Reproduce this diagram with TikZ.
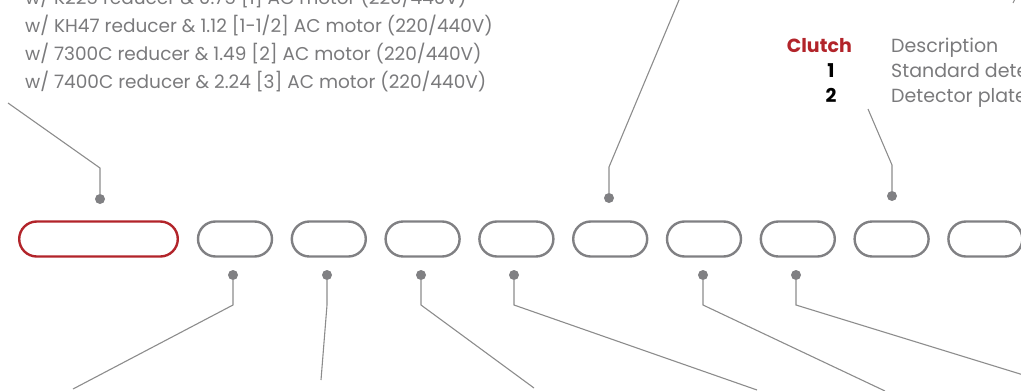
\documentclass[tikz,border=0pt]{standalone}
\usepackage{fontspec}
\setmainfont{Poppins}
\usetikzlibrary{shapes.misc, positioning, math}
\definecolor{myred}{RGB}{178,36,42}
\definecolor{mygray}{RGB}{128,128,131}
\definecolor{linegray}{RGB}{140,140,140}
\definecolor{textgray}{RGB}{122,122,124}

\tikzset{
  slot/.style={rounded rectangle, draw=mygray, line width=2.4, minimum width=74, minimum height=35, inner sep=0},
  pin/.style={circle, fill=mygray, inner sep=0, minimum size=10},
  lead/.style={draw=linegray, line width=1.1},
  listtxt/.style={anchor=base west, text=textgray, inner sep=0, font=\fontsize{18.5}{28}\selectfont},
  tabtxt/.style={anchor=base west, text=textgray, inner sep=0, font=\fontsize{19}{25}\selectfont},
}

\begin{document}
\begin{tikzpicture}[x=1pt,y=-1pt]
\useasboundingbox (0,0) rectangle (1021,391);
\tikzmath{
\P=93.8;
\Y=239;
}

%slots
\node[slot, draw=myred, minimum width=158.6] (s1) at (98.5,\Y) {};
\foreach \i in {2,...,10}{
  \node[slot] (s\i) at ({235+(\i-2)*\P},\Y) {};
}

%pins above
\node[pin] (p1) at (100,199) {};
\node[pin] (p6) at (609,198) {};
\node[pin] (p9) at (892,196) {};
%pins below
\foreach \i/\x in {2/233,3/327,4/421,5/514,7/703,8/796}{
  \node[pin] (p\i) at (\x,275) {};
}

%leaders
\coordinate (k1) at (100,168);  \coordinate (e1) at (8,103);
\coordinate (k6) at (609,167);  \coordinate (e6) at (679,0);
\coordinate (k9) at (892,165);  \coordinate (e9) at (868,109);
\foreach \i/\x/\ex/\ey in {2/233/73/389, 3/327/321/380, 4/421/534/388, 5/514/757/390, 7/703/885/391, 8/796/1030/377}{
  \coordinate (k\i) at (\x,305);
  \coordinate (e\i) at (\ex,\ey);
}
\foreach \i in {1,2,3,4,5,6,7,8,9}{
  \draw[lead] (p\i) -- (k\i) -- (e\i);
}
\coordinate (t1) at (1015,-1);
\coordinate (t2) at (1013,3);
\draw[lead] (t1) -- (t2);

%motor list
\node[listtxt] (m1) at (25,4) {w/ K225 reducer \& 0.75 [1] AC motor (220/440V)};
\node[listtxt] (m2) at (25,32) {w/ KH47 reducer \& 1.12 [1-1/2] AC motor (220/440V)};
\node[listtxt] (m3) at (25,60) {w/ 7300C reducer \& 1.49 [2] AC motor (220/440V)};
\node[listtxt] (m4) at (25,88) {w/ 7400C reducer \& 2.24 [3] AC motor (220/440V)};

%clutch table
\node[tabtxt, anchor=base east, text=myred, font=\fontsize{19}{25}\bfseries] (ch) at (852,52) {Clutch};
\node[tabtxt] (dh) at (891,52) {Description};
\node[tabtxt, anchor=base, text=black, font=\fontsize{19}{25}\bfseries] (c1) at (831,77) {1};
\node[tabtxt, anchor=base, text=black, font=\fontsize{19}{25}\bfseries] (c2) at (831,102) {2};
\node[tabtxt] (d1) at (891,77) {Standard detector plate};
\node[tabtxt] (d2) at (891,102) {Detector plate};

\end{tikzpicture}
\end{document}
